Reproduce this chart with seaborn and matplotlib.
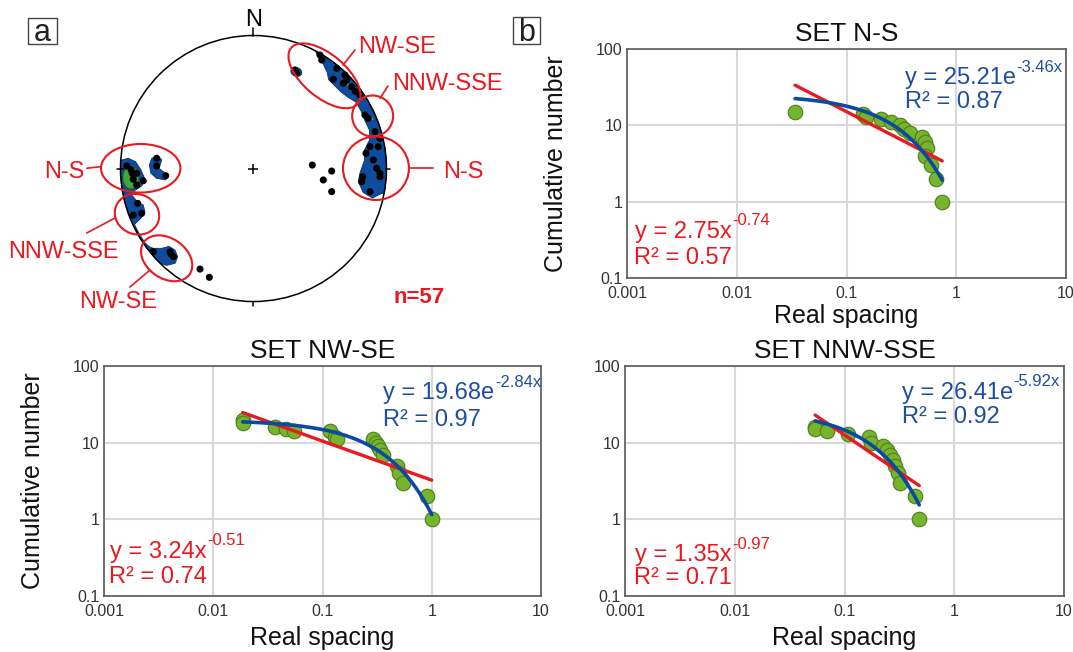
import numpy as np
import pandas as pd
import matplotlib
matplotlib.use("Agg")
import matplotlib.pyplot as plt
from matplotlib.patches import Ellipse, Circle, Polygon, Rectangle
from matplotlib.ticker import NullLocator
import seaborn as sns

sns.set_theme(style="white")
plt.rcParams['font.family'] = ['Liberation Sans', 'DejaVu Sans']

# ---------------- colours ----------------
RED = '#e8191f'
BLUE_TXT = '#1d4f9f'
BLUE_LINE = '#0a4aa0'
GREEN = '#76b42c'
GREEN_EDGE = '#4f7d1c'
STEREO_BLUE = '#0f4c9e'

# ---------------- panel b data ----------------
ns_spacing = [0.034, 0.14, 0.152, 0.208, 0.252, 0.306, 0.333, 0.379, 0.486, 0.518, 0.536, 0.518, 0.587, 0.653, 0.745]
ns_cum = [15, 14, 13, 12, 11, 10, 9, 8, 7, 6, 5, 4, 3, 2, 1]
ns_power = (2.75, -0.74, 0.57)
ns_expo = (25.21, -3.46, 0.87)

nwse_spacing = [0.0186, 0.0189, 0.037, 0.046, 0.055, 0.117, 0.130, 0.135, 0.292, 0.31, 0.325, 0.337, 0.361, 0.485, 0.506, 0.543, 0.90, 1.0]
nwse_cum = [20, 18, 16, 15, 14, 14, 12, 11, 11, 10, 9, 8, 7, 5, 4, 3, 2, 1]
nwse_power = (3.24, -0.51, 0.74)
nwse_expo = (19.68, -2.84, 0.97)

nnwsse_spacing = [0.054, 0.054, 0.069, 0.107, 0.166, 0.175, 0.226, 0.243, 0.261, 0.279, 0.289, 0.310, 0.321, 0.44, 0.48]
nnwsse_cum = [16, 15, 14, 13, 12, 10, 9, 8, 7, 6, 5, 4, 3, 2, 1]
nnwsse_power = (1.35, -0.97, 0.71)
nnwsse_expo = (26.41, -5.92, 0.92)

x_ticks = [0.001, 0.01, 0.1, 1, 10]
x_ticklabels = ['0.001', '0.01', '0.1', '1', '10']
y_ticks = [0.1, 1, 10, 100]
y_ticklabels = ['0.1', '1', '10', '100']

# ---------------- panel a data (stereonet, unit-circle projection) ----------------
pole_u = [0.500, 0.513, 0.312, 0.325, 0.626, 0.600, 0.688, 0.675, 0.701, 0.738, 0.801, 0.765,
          0.838, 0.863, 0.914, 0.951,
          0.876, 0.938, 0.846, 0.901, 0.926, 0.951, 0.821, 0.814, 0.876, 0.951,
          0.442, 0.588, 0.525, 0.588,
          -0.953, -0.911, -0.878, -0.904, -0.878, -0.829, -0.728, -0.728, -0.660, -0.92,
          -0.871, -0.841, -0.904,
          -0.753, -0.628, -0.603, -0.620,
          -0.402, -0.332]
pole_v = [0.853, 0.816, 0.741, 0.716, 0.753, 0.671, 0.703, 0.641, 0.665, 0.615, 0.553, 0.580,
          0.402, 0.377, 0.277, 0.227,
          0.164, 0.164, 0.114, 0.064, 0.002, -0.036, -0.062, -0.099, -0.174, -0.062,
          0.026, -0.019, -0.086, -0.174,
          0.019, -0.036, -0.036, -0.081, -0.124, -0.092, 0.077, 0.019, -0.054, -0.010,
          -0.262, -0.337, -0.350,
          -0.626, -0.626, -0.663, -0.643,
          -0.756, -0.818]

# density contour outlines (inner edges; outer edge follows the primitive circle)
ne_band_inner = [(0.470, 0.870), (0.525, 0.785), (0.555, 0.720), (0.565, 0.668), (0.605, 0.628),
                 (0.655, 0.578), (0.705, 0.540), (0.770, 0.500), (0.810, 0.430), (0.838, 0.360),
                 (0.872, 0.289), (0.872, 0.214), (0.835, 0.139), (0.835, 0.064), (0.800, -0.036),
                 (0.788, -0.099), (0.825, -0.180), (0.895, -0.222), (0.964, -0.187)]
w_band_inner = [(-0.991, 0.064), (-0.941, 0.077), (-0.886, 0.051), (-0.846, -0.011), (-0.816, -0.081),
                (-0.841, -0.132), (-0.896, -0.167), (-0.916, -0.199), (-0.878, -0.244), (-0.829, -0.274),
                (-0.816, -0.325), (-0.846, -0.374), (-0.895, -0.420), (-0.860, -0.490), (-0.815, -0.560),
                (-0.780, -0.590), (-0.753, -0.600), (-0.690, -0.600), (-0.635, -0.585), (-0.590, -0.613),
                (-0.570, -0.663), (-0.590, -0.713), (-0.653, -0.728), (-0.700, -0.714)]
w_blob = [(-0.765, 0.077), (-0.716, 0.094), (-0.690, 0.064), (-0.711, 0.002), (-0.678, -0.024),
          (-0.641, -0.049), (-0.660, -0.086), (-0.728, -0.074), (-0.771, -0.036), (-0.783, 0.026)]

# set groupings: (centre u, centre v, width, height, angle)
set_ellipses = [(0.534, 0.697, 0.654, 0.323, -40),
                (0.896, 0.395, 0.308, 0.308, 0),
                (0.921, 0.002, 0.496, 0.477, 0),
                (-0.848, 0.002, 0.597, 0.365, 0),
                (-0.876, -0.344, 0.338, 0.301, -20),
                (-0.653, -0.675, 0.421, 0.301, -35)]
set_labels = ['NW-SE', 'NNW-SSE', 'N-S', 'N-S', 'NNW-SSE', 'NW-SE']
label_pos = [(0.786, 0.914, 'left'), (1.041, 0.635, 'left'), (1.425, -0.024, 'left'),
             (-1.267, -0.026, 'right'), (-1.429, -0.628, 'center'), (-1.019, -1.004, 'center')]
leader_lines = [((0.673, 0.763), (0.778, 0.891)), ((0.951, 1.011), (0.528, 0.620)),
                ((1.177, 1.350), (0.002, 0.002)), ((-1.254, -1.147), (0.002, 0.014)),
                ((-1.254, -1.041), (-0.485, -0.372)), ((-0.929, -0.778), (-0.891, -0.763))]

fig = plt.figure(figsize=(10.73, 6.52), dpi=100)
FW, FH = 1073.0, 652.0


def fig_axes(left, top, right, bottom):
    return fig.add_axes([left / FW, 1 - bottom / FH, (right - left) / FW, (bottom - top) / FH])


# ================= panel a =================
ax0 = fig_axes(0, 0, 520, 330)


def band_polygon(inner, r=1.0):
    a0 = np.arctan2(inner[0][1], inner[0][0])
    a1 = np.arctan2(inner[-1][1], inner[-1][0])
    if inner[0][0] < 0:
        a0 = a0 % (2 * np.pi)
        a1 = a1 % (2 * np.pi)
    arc = np.linspace(a1, a0, 60)
    return list(inner) + [(r * np.cos(a), r * np.sin(a)) for a in arc]


for inner in (ne_band_inner, w_band_inner):
    ax0.add_patch(Polygon(band_polygon(inner), closed=True, fc=STEREO_BLUE, ec='#0b2f66', lw=0.6, zorder=1))
ax0.add_patch(Polygon(w_blob, closed=True, fc=STEREO_BLUE, ec='#0b2f66', lw=0.6, zorder=1))
ax0.add_patch(Ellipse((0.322, 0.727), 0.085, 0.065, angle=-20, fc=STEREO_BLUE, ec='#0b2f66', lw=0.6, zorder=1))
# higher density contours
ax0.add_patch(Ellipse((-0.922, -0.068), 0.12, 0.17, fc='#3aa935', ec='#1d5e1a', lw=0.5, zorder=2))
ax0.add_patch(Ellipse((-0.905, -0.055), 0.05, 0.08, fc=RED, ec='none', zorder=2.1))
ax0.add_patch(Ellipse((0.745, 0.600), 0.11, 0.035, angle=-42, fc='#3aa935', ec='#1d5e1a', lw=0.5, zorder=2))
ax0.add_patch(Ellipse((0.785, 0.570), 0.03, 0.02, fc=RED, ec='none', zorder=2.1))
ax0.add_patch(Ellipse((0.885, 0.375), 0.035, 0.025, fc='#3aa935', ec='none', zorder=2))

ax0.add_patch(Circle((0, 0), 1.0, fill=False, ec='black', lw=1.1, zorder=3))
poles = pd.DataFrame({'u': pole_u, 'v': pole_v})
sns.scatterplot(data=poles, x='u', y='v', ax=ax0, s=26, color='black', edgecolor='none', zorder=4, legend=False)
ax0.plot([0, 0], [1.0, 1.055], color='black', lw=1.1)
ax0.plot([0, 0], [-1.0, -1.035], color='black', lw=1.1)
ax0.plot([-1.03, -0.98], [0, 0], color='black', lw=1.1)
ax0.plot([1.0, 1.03], [0, 0], color='black', lw=1.1)
ax0.plot([0], [0], marker='+', ms=7, mew=1.1, color='black')
ax0.text(0.004, 1.117, 'N', fontsize=17, ha='center', va='center', color='black')

for (cu, cv, w, h, ang), lab, (tx, ty, ha), (lx, ly) in zip(set_ellipses, set_labels, label_pos, leader_lines):
    ax0.add_patch(Ellipse((cu, cv), w, h, angle=ang, fill=False, ec=RED, lw=1.5, zorder=5))
    ax0.plot(lx, ly, color=RED, lw=1.2, zorder=5)
    ax0.text(tx, ty, lab, fontsize=17, color=RED, ha=ha, va='center')
ax0.text(1.244, -0.966, 'n=57', fontsize=16, color=RED, fontweight='bold', ha='center', va='center')
ax0.set_xlim(-1.906, 2.004)
ax0.set_ylim(-1.214, 1.267)
ax0.axis('off')

# panel letters
for (l, t, r, b), letter in (((28, 18, 57, 44), 'a'), ((512.7, 17.3, 540, 44), 'b')):
    fig.patches.append(Rectangle((l / FW, 1 - b / FH), (r - l) / FW, (b - t) / FH, transform=fig.transFigure,
                                 fill=False, ec='#444444', lw=1.0))
    fig.text((l + r) / 2 / FW, 1 - 41 / FH, letter, fontsize=22, ha='center', va='baseline', color='#222222')


# ================= panel b =================
def draw_panel(ax, spacing, cum, power, expo, title, ylabel, blue_pos, red_pos, xlab_y):
    ax.set_xscale('log')
    ax.set_yscale('log')
    df = pd.DataFrame({'spacing': spacing, 'cum': cum})
    xf = np.geomspace(min(spacing), max(spacing), 200)
    fit = pd.DataFrame({'x': xf,
                        'power': power[0] * xf ** power[1],
                        'expo': expo[0] * np.exp(expo[1] * xf)})
    sns.scatterplot(data=df, x='spacing', y='cum', ax=ax, s=110, color=GREEN, edgecolor=GREEN_EDGE,
                    linewidth=0.8, zorder=3, legend=False)
    sns.lineplot(data=fit, x='x', y='power', ax=ax, color=RED, lw=2.4, zorder=4)
    sns.lineplot(data=fit, x='x', y='expo', ax=ax, color=BLUE_LINE, lw=2.6, zorder=5)
    ax.set_xlim(0.001, 10)
    ax.set_ylim(0.1, 100)
    ax.set_xticks(x_ticks)
    ax.set_xticklabels(x_ticklabels)
    ax.set_yticks(y_ticks)
    ax.set_yticklabels(y_ticklabels)
    ax.xaxis.set_minor_locator(NullLocator())
    ax.yaxis.set_minor_locator(NullLocator())
    ax.grid(True, which='major', color='#d9d9d9', lw=1.5)
    ax.set_axisbelow(True)
    for sp in ax.spines.values():
        sp.set_visible(True)
        sp.set_color('#5a5a5a')
        sp.set_linewidth(1.2)
    ax.tick_params(axis='both', length=0, labelsize=11.5, labelcolor='#333333')
    ax.tick_params(axis='x', pad=5.5)
    ax.tick_params(axis='y', pad=3)
    ax.set_title(title, fontsize=19, pad=6, color='#111111')
    ax.set_xlabel('Real spacing', fontsize=18, color='#111111')
    ax.xaxis.set_label_coords(0.5, xlab_y)
    if ylabel:
        ax.set_ylabel('Cumulative number', fontsize=18, color='#111111')
        ax.yaxis.set_label_coords(-0.134, 0.5)
    else:
        ax.set_ylabel('')
    # exponential fit equation (blue)
    t1 = ax.text(blue_pos[0], blue_pos[1], f"y = {expo[0]:.2f}e", transform=ax.transAxes,
                 fontsize=17, color=BLUE_TXT, ha='left', va='center')
    ax.annotate(f"{expo[1]:.2f}x", xy=(1, 1), xycoords=t1, xytext=(0.5, 0), textcoords='offset points',
                fontsize=12, color=BLUE_TXT, ha='left', va='center')
    ax.text(blue_pos[0], blue_pos[2], f"R\u00b2 = {expo[2]:.2f}", transform=ax.transAxes,
            fontsize=17, color=BLUE_TXT, ha='left', va='center')
    # power fit equation (red)
    t2 = ax.text(red_pos[0], red_pos[1], f"y = {power[0]:.2f}x", transform=ax.transAxes,
                 fontsize=17, color=RED, ha='left', va='center')
    ax.annotate(f"{power[1]:.2f}", xy=(1, 1), xycoords=t2, xytext=(0.5, 0), textcoords='offset points',
                fontsize=12, color=RED, ha='left', va='center')
    ax.text(red_pos[0] - 0.003, red_pos[2], f"R\u00b2 = {power[2]:.2f}", transform=ax.transAxes,
            fontsize=17, color=RED, ha='left', va='center')


ax1 = fig_axes(627, 49, 1066, 278)
draw_panel(ax1, ns_spacing, ns_cum, ns_power, ns_expo, 'SET N-S', True,
           (0.633, 0.872, 0.770), (0.018, 0.202, 0.087), -0.114)

ax2 = fig_axes(104, 366, 541, 596)
draw_panel(ax2, nwse_spacing, nwse_cum, nwse_power, nwse_expo, 'SET NW-SE', True,
           (0.639, 0.881, 0.765), (0.014, 0.193, 0.084), -0.13)

ax3 = fig_axes(625, 366, 1064, 596)
draw_panel(ax3, nnwsse_spacing, nnwsse_cum, nnwsse_power, nnwsse_expo, 'SET NNW-SSE', False,
           (0.630, 0.883, 0.780), (0.023, 0.178, 0.078), -0.13)

fig.savefig('out.png', dpi=100)
